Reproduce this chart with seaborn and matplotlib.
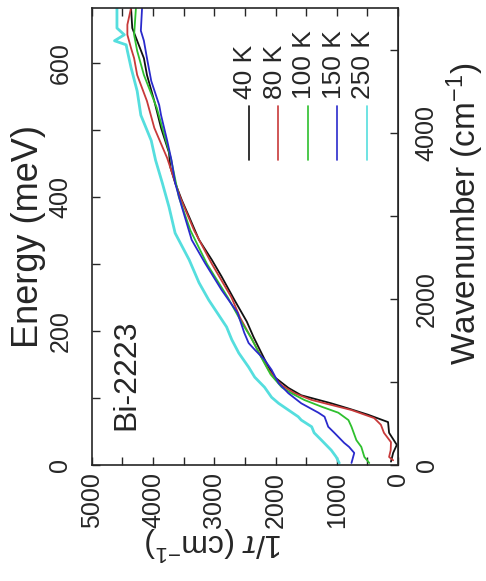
# %%
import numpy as np
import pandas as pd
import matplotlib
matplotlib.use("Agg")
import matplotlib.pyplot as plt
from matplotlib.ticker import MultipleLocator
import seaborn as sns

# %%
# scattering rate 1/tau (cm^-1) vs energy (meV), Bi-2223
temps = ['40 K', '80 K', '100 K', '150 K', '250 K']
colors = ['#111111', '#c83a3a', '#2ec02e', '#2a2acc', '#55dede']

e_40 = [5, 18, 30, 48, 64, 75, 84, 92, 104, 115, 131, 146, 167, 191, 214, 246, 281, 306, 336, 370, 395, 421, 445, 466, 503, 543, 582, 607, 633, 652, 682]
t_40 = [115, 80, 20, 146, 163, 490, 800, 1090, 1580, 1790, 2015, 2115, 2230, 2360, 2470, 2670, 2880, 3040, 3250, 3410, 3530, 3640, 3720, 3740, 3870, 3980, 4100, 4150, 4260, 4340, 4360]

e_80 = [7, 12, 22, 34, 48, 60, 70, 82, 97, 107, 119, 130, 142, 161, 190, 220, 250, 300, 350, 400, 458, 503, 543, 582, 607, 622, 642, 657, 682]
t_80 = [80, 146, 120, 115, 230, 280, 390, 760, 1410, 1690, 1900, 2015, 2115, 2230, 2400, 2580, 2720, 3040, 3330, 3560, 3770, 3980, 4100, 4260, 4310, 4360, 4420, 4420, 4360]

e_100 = [3, 12, 27, 37, 57, 67, 78, 87, 97, 107, 116, 135, 160, 190, 212, 250, 300, 350, 400, 458, 533, 582, 618, 642, 682]
t_100 = [470, 550, 600, 680, 760, 810, 975, 1250, 1530, 1740, 1900, 2080, 2230, 2400, 2550, 2780, 3120, 3390, 3580, 3710, 3940, 4150, 4260, 4310, 4280]

e_150 = [3, 18, 27, 33, 48, 57, 72, 78, 92, 107, 122, 142, 157, 172, 182, 197, 216, 227, 261, 301, 336, 385, 421, 455, 484, 522, 537, 573, 607, 633, 648, 682]
t_150 = [760, 715, 800, 880, 1040, 1140, 1200, 1300, 1580, 1790, 1950, 2065, 2180, 2340, 2440, 2510, 2580, 2620, 2880, 3150, 3370, 3530, 3640, 3700, 3770, 3870, 3900, 4030, 4100, 4150, 4200, 4180]

e_250 = [3, 12, 22, 37, 48, 57, 67, 72, 82, 92, 101, 116, 131, 146, 167, 187, 206, 246, 272, 306, 346, 385, 421, 455, 484, 522, 558, 593, 618, 627, 633, 642, 652, 682]
t_250 = [960, 1010, 1090, 1250, 1370, 1410, 1580, 1630, 1790, 1950, 2065, 2180, 2340, 2440, 2600, 2715, 2800, 3090, 3250, 3410, 3640, 3740, 3850, 3960, 4030, 4200, 4260, 4360, 4420, 4440, 4630, 4470, 4590, 4590]

energy_ticks = [0, 200, 400, 600]
rate_ticks = [0, 1000, 2000, 3000, 4000, 5000]
wn_ticks = [0, 2000, 4000]

# %%
frames = []
for name, e, t in zip(temps, [e_40, e_80, e_100, e_150, e_250], [t_40, t_80, t_100, t_150, t_250]):
    frames.append(pd.DataFrame({'T': name, 'E': e, 'rate': t}))
df = pd.concat(frames, ignore_index=True)

# %%
sns.set_style('ticks')
plt.rcParams['font.family'] = ['Liberation Sans', 'DejaVu Sans']
plt.rcParams['mathtext.fontset'] = 'custom'
plt.rcParams['mathtext.rm'] = 'Liberation Sans'
plt.rcParams['mathtext.it'] = 'Liberation Sans:italic'

fig = plt.figure(figsize=(4.86, 5.81), dpi=100)
ax = fig.add_axes([0.189, 0.1997, 0.630, 0.7866])

for name, col in zip(temps, colors):
    sub = df[df['T'] == name]
    lw = 2.0 if name == '250 K' else 1.3
    sns.lineplot(data=sub, x='rate', y='E', sort=False, estimator=None,
                 color=col, lw=lw, ax=ax)

ax.set_xlim(5000, 0)
ax.set_ylim(0, 682)

ax.set_xticks(rate_ticks)
ax.xaxis.set_minor_locator(MultipleLocator(500))
ax.set_yticks(energy_ticks)
ax.yaxis.set_minor_locator(MultipleLocator(100))
ax.tick_params(which='both', direction='in', length=6, width=1, top=True, right=False)
ax.tick_params(axis='x', labelsize=18, labelrotation=90, pad=5)
ax.tick_params(axis='y', labelsize=18, labelrotation=90, pad=14)
for lab in ax.get_yticklabels():
    lab.set_va('center')

for s in ax.spines.values():
    s.set_linewidth(1.2)

ax.set_ylabel('Energy (meV)', fontsize=26, labelpad=2)
ax.set_xlabel(r'1/$\tau$ (cm$^{-1}$)', fontsize=23, rotation=180)
ax.xaxis.set_label_coords(0.40, -0.13)

sec = ax.secondary_yaxis('right', functions=(lambda e: e * 8.0655, lambda w: w / 8.0655))
sec.set_yticks(wn_ticks)
sec.yaxis.set_minor_locator(MultipleLocator(1000))
sec.tick_params(which='both', direction='in', length=6, width=1)
sec.tick_params(axis='y', labelsize=18, labelrotation=90, pad=12)
for lab in sec.get_yticklabels():
    lab.set_va('center')
sec.set_ylabel(r'Wavenumber (cm$^{-1}$)', fontsize=24, rotation=90, labelpad=4)
sec.yaxis.label.set_y(0.55)

# legend drawn sideways, like the rest of the figure
for i, (name, col) in enumerate(zip(temps, colors)):
    xa = 0.513 + i * 0.0964
    ax.plot([xa, xa], [0.667, 0.786], color=col, lw=1.2, transform=ax.transAxes)
    ax.text(xa - 0.012, 0.80, name, rotation=90, ha='center', va='bottom',
            fontsize=19, transform=ax.transAxes)

ax.text(0.114, 0.077, 'Bi-2223', rotation=90, ha='center', va='bottom',
        fontsize=23, transform=ax.transAxes)

fig.savefig('out.png', dpi=100)
